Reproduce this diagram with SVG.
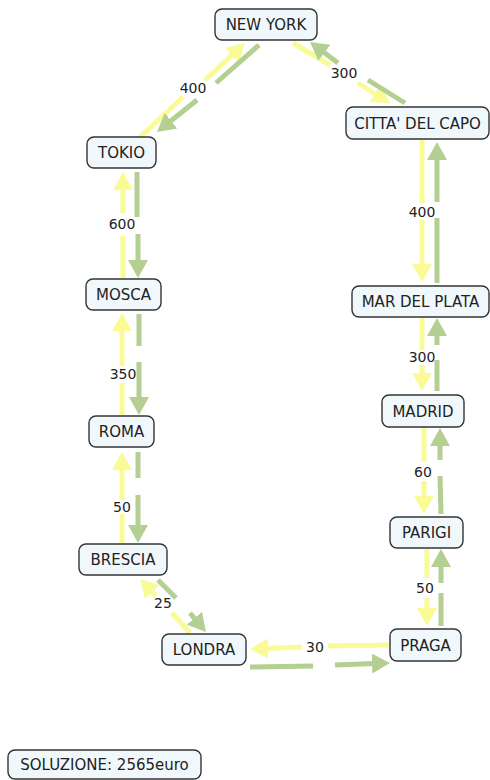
<svg xmlns="http://www.w3.org/2000/svg" width="490" height="780" viewBox="0 0 490 780">
  <style>
    .node rect { fill: #f0f8fc; stroke: #333; stroke-width: 1.4; }
    .node text { font-family: "DejaVu Sans", Verdana, sans-serif; font-size: 15px; fill: #222; text-anchor: middle; }
    .y { stroke: #fafa96; stroke-width: 5; fill: none; }
    .g { stroke: #b3cf91; stroke-width: 5; fill: none; }
    .ya { marker-end: url(#ah-y); }
    .ga { marker-end: url(#ah-g); }
    .lbl { font-family: "DejaVu Sans", Verdana, sans-serif; font-size: 14px; fill: #222; text-anchor: middle; }
  </style>
  <defs>
    <marker id="ah-y" viewBox="0 0 18 20" refX="2" refY="10" markerWidth="18" markerHeight="20" markerUnits="userSpaceOnUse" orient="auto">
      <path d="M0,0 L18,10 L0,20 z" fill="#fafa96"/>
    </marker>
    <marker id="ah-g" viewBox="0 0 18 20" refX="2" refY="10" markerWidth="18" markerHeight="20" markerUnits="userSpaceOnUse" orient="auto">
      <path d="M0,0 L18,10 L0,20 z" fill="#b3cf91"/>
    </marker>
  </defs>

  <g id="connectors">
    <!-- TOKIO <-> NEW YORK -->
    <line class="y" x1="140" y1="137" x2="183" y2="97"/>
    <line class="y ya" x1="205" y1="80" x2="233.3" y2="53.9"/>
    <line class="g" x1="259" y1="45" x2="216" y2="83"/>
    <line class="g ga" x1="197" y1="100" x2="169.5" y2="122"/>
    <!-- NEW YORK <-> CITTA' DEL CAPO -->
    <line class="y" x1="293" y1="43" x2="330" y2="65"/>
    <line class="y ya" x1="358" y1="83" x2="376.4" y2="94.5"/>
    <line class="g" x1="405" y1="103" x2="368" y2="80"/>
    <line class="g ga" x1="338" y1="63" x2="322.8" y2="51.6"/>
    <!-- CITTA' DEL CAPO <-> MAR DEL PLATA -->
    <line class="y" x1="422" y1="140" x2="422" y2="203"/>
    <line class="y ya" x1="422" y1="220" x2="422" y2="266"/>
    <line class="g" x1="437" y1="283" x2="437" y2="218"/>
    <line class="g ga" x1="437" y1="202" x2="437" y2="158"/>
    <!-- MAR DEL PLATA <-> MADRID -->
    <line class="y" x1="422" y1="318" x2="422" y2="350"/>
    <line class="y ya" x1="422" y1="365" x2="422" y2="375"/>
    <line class="g" x1="437" y1="391" x2="437" y2="360"/>
    <line class="g ga" x1="437" y1="345" x2="437" y2="334"/>
    <!-- MADRID <-> PARIGI -->
    <line class="y" x1="424" y1="427" x2="424" y2="462"/>
    <line class="y ya" x1="424" y1="481" x2="424" y2="498"/>
    <line class="g" x1="441" y1="514" x2="440" y2="476"/>
    <line class="g ga" x1="440" y1="460" x2="440" y2="444"/>
    <!-- PARIGI <-> PRAGA -->
    <line class="y" x1="427" y1="549" x2="427" y2="578"/>
    <line class="y ya" x1="427" y1="598" x2="427" y2="610"/>
    <line class="g" x1="441" y1="626" x2="441" y2="593"/>
    <line class="g ga" x1="441" y1="583" x2="441" y2="565"/>
    <!-- PRAGA <-> LONDRA -->
    <line class="y" x1="389" y1="645" x2="328" y2="646"/>
    <line class="y ya" x1="302" y1="647" x2="266" y2="648.5"/>
    <line class="g" x1="250" y1="667" x2="313" y2="666"/>
    <line class="g ga" x1="335" y1="665" x2="374" y2="663.5"/>
    <!-- LONDRA <-> BRESCIA -->
    <line class="y" x1="190" y1="633" x2="172" y2="613"/>
    <line class="y ya" x1="156" y1="596" x2="151" y2="590.6"/>
    <line class="g" x1="158" y1="580" x2="176" y2="598"/>
    <line class="g ga" x1="190" y1="613" x2="195.7" y2="619.8"/>
    <!-- BRESCIA <-> ROMA -->
    <line class="y" x1="122" y1="543" x2="122" y2="514"/>
    <line class="y ya" x1="122" y1="500" x2="122" y2="468"/>
    <line class="g" x1="138" y1="452" x2="138" y2="478"/>
    <line class="g ga" x1="138" y1="495" x2="138" y2="527"/>
    <!-- ROMA <-> MOSCA -->
    <line class="y" x1="122" y1="415" x2="122" y2="383"/>
    <line class="y ya" x1="122" y1="366" x2="122" y2="329"/>
    <line class="g" x1="139" y1="314" x2="139" y2="346"/>
    <line class="g ga" x1="139" y1="362" x2="139" y2="399"/>
    <!-- MOSCA <-> TOKIO -->
    <line class="y" x1="123" y1="279" x2="123" y2="236"/>
    <line class="y ya" x1="123" y1="213" x2="123" y2="188"/>
    <line class="g" x1="137" y1="172" x2="137" y2="217"/>
    <line class="g ga" x1="138" y1="234" x2="138" y2="262"/>

    <!-- distance labels -->
    <text class="lbl" x="193" y="93">400</text>
    <text class="lbl" x="344" y="78">300</text>
    <text class="lbl" x="422" y="217">400</text>
    <text class="lbl" x="422" y="362">300</text>
    <text class="lbl" x="423" y="477">60</text>
    <text class="lbl" x="425" y="593">50</text>
    <text class="lbl" x="315" y="652">30</text>
    <text class="lbl" x="163" y="608">25</text>
    <text class="lbl" x="122" y="512">50</text>
    <text class="lbl" x="123" y="379">350</text>
    <text class="lbl" x="122" y="229">600</text>
  </g>

  <g id="new-york" class="node">
    <rect x="215" y="9" width="102" height="31" rx="7"/>
    <text x="266" y="30">NEW YORK</text>
  </g>
  <g id="citta-del-capo" class="node">
    <rect x="346" y="107" width="143" height="32" rx="7"/>
    <text x="417.5" y="128.5">CITTA' DEL CAPO</text>
  </g>
  <g id="tokio" class="node">
    <rect x="87" y="137" width="69" height="31" rx="7"/>
    <text x="121.5" y="158">TOKIO</text>
  </g>
  <g id="mar-del-plata" class="node">
    <rect x="352" y="286" width="137" height="31" rx="7"/>
    <text x="420.5" y="307">MAR DEL PLATA</text>
  </g>
  <g id="mosca" class="node">
    <rect x="86" y="279" width="75" height="31" rx="7"/>
    <text x="123.5" y="300">MOSCA</text>
  </g>
  <g id="madrid" class="node">
    <rect x="382" y="395" width="82" height="32" rx="7"/>
    <text x="423" y="416.5">MADRID</text>
  </g>
  <g id="roma" class="node">
    <rect x="89" y="416" width="65" height="31" rx="7"/>
    <text x="121.5" y="437">ROMA</text>
  </g>
  <g id="parigi" class="node">
    <rect x="390" y="517" width="73" height="31" rx="7"/>
    <text x="426.5" y="538">PARIGI</text>
  </g>
  <g id="brescia" class="node">
    <rect x="79" y="544" width="88" height="31" rx="7"/>
    <text x="123" y="565">BRESCIA</text>
  </g>
  <g id="londra" class="node">
    <rect x="162" y="634" width="84" height="31" rx="7"/>
    <text x="204" y="655">LONDRA</text>
  </g>
  <g id="praga" class="node">
    <rect x="390" y="629" width="71" height="32" rx="7"/>
    <text x="425.5" y="650.5">PRAGA</text>
  </g>
  <g id="soluzione" class="node">
    <rect x="8" y="750" width="193" height="29" rx="7"/>
    <text x="104.5" y="770">SOLUZIONE: 2565euro</text>
  </g>
</svg>
